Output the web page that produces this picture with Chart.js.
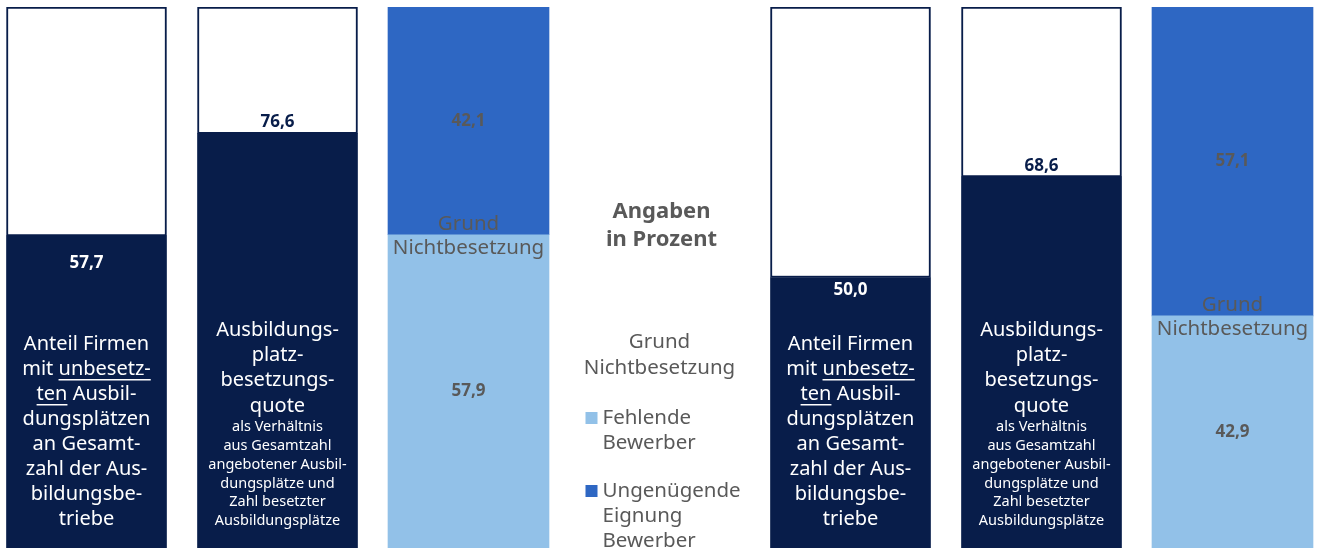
<!DOCTYPE html>
<html lang="de">
<head>
<meta charset="utf-8">
<script src="https://cdn.jsdelivr.net/npm/chart.js@4"></script>
<style>
  html, body { margin: 0; padding: 0; background: #fff; }
  #wrap { width: 1322px; height: 548px; }
</style>
</head>
<body>
<div id="wrap"><canvas id="ausbildung-chart"></canvas></div>
<script>
// two groups of three columns, slot 3 holds the legend text
const anteilSlots = [0, 4];
const quoteSlots = [1, 5];
const grundSlots = [2, 6];

const anteilUnbesetzt = [57.7, 50.0];
const besetzungsquote = [76.6, 68.6];
const fehlendeBewerber = [57.9, 42.9];
const ungenuegendeEignung = [42.1, 57.1];

const NAVY = '#081d4a';
const BLUE = '#2e67c3';
const LIGHT = '#92c1e8';
const GREY = '#595959';
const FONT = '"Noto Sans", sans-serif';

// text blocks inside the dark columns; [text, underline]
const anteilLines = [
    [['Anteil Firmen']],
    [['mit '], ['unbesetz-', true]],
    [['ten', true], [' Ausbil-']],
    [['dungsplätzen']],
    [['an Gesamt-']],
    [['zahl der Aus-']],
    [['bildungsbe-']],
    [['triebe']]
];
const quoteLines = ['Ausbildungs-', 'platz-', 'besetzungs-', 'quote'];
const quoteSmallLines = ['als Verhältnis', 'aus Gesamtzahl', 'angebotener Ausbil-', 'dungsplätze und', 'Zahl besetzter', 'Ausbildungsplätze'];

const fmt = v => v.toFixed(1).replace('.', ',');
const points = (slots, values) => slots.map((x, i) => ({ x: x, y: values[i] }));

const dataValues = anteilUnbesetzt.concat(besetzungsquote);
const dataSlots = anteilSlots.concat(quoteSlots);

const textPlugin = {
    id: 'columnTexts',
    afterDatasetsDraw(chart) {
        const ctx = chart.ctx;
        const bottom = chart.chartArea.bottom;
        ctx.save();
        ctx.textAlign = 'center';
        ctx.textBaseline = 'middle';

        function richLine(parts, cx, y, size) {
            ctx.font = size + 'px ' + FONT;
            const widths = parts.map(p => ctx.measureText(p[0]).width);
            let x = cx - widths.reduce((a, b) => a + b, 0) / 2;
            ctx.textAlign = 'left';
            parts.forEach((p, k) => {
                ctx.fillText(p[0], x, y);
                if (p[1]) {
                    ctx.fillRect(x, y + size * 0.5, widths[k], 1.5);
                }
                x += widths[k];
            });
            ctx.textAlign = 'center';
        }

        // dark columns
        const dark = chart.getDatasetMeta(0).data;
        const anteilOffsets = [27, 13];
        dark.forEach((bar, i) => {
            const raw = chart.data.datasets[0].data[i];
            const isAnteil = anteilSlots.includes(raw.x);
            ctx.font = 'bold 17px ' + FONT;
            if (isAnteil) {
                ctx.fillStyle = '#ffffff';
                ctx.fillText(fmt(raw.y), bar.x, bar.y + anteilOffsets[anteilSlots.indexOf(raw.x)]);
                anteilLines.forEach((parts, k) => {
                    richLine(parts, bar.x, bottom - 29 - (anteilLines.length - 1 - k) * 25, 20);
                });
            } else {
                ctx.fillStyle = NAVY;
                ctx.fillText(fmt(raw.y), bar.x, bar.y - 11);
                ctx.fillStyle = '#ffffff';
                const smallTop = bottom - 27 - (quoteSmallLines.length - 1) * 18.8;
                ctx.font = '14.5px ' + FONT;
                quoteSmallLines.forEach((t, k) => {
                    ctx.fillText(t, bar.x, smallTop + k * 18.8);
                });
                ctx.font = '20px ' + FONT;
                quoteLines.forEach((t, k) => {
                    ctx.fillText(t, bar.x, smallTop - 21 - (quoteLines.length - 1 - k) * 25.3);
                });
            }
        });

        // reason columns
        const lower = chart.getDatasetMeta(2).data;
        const upper = chart.getDatasetMeta(3).data;
        lower.forEach((bar, i) => {
            const top = upper[i];
            ctx.fillStyle = GREY;
            ctx.font = 'bold 17px ' + FONT;
            ctx.fillText(fmt(chart.data.datasets[2].data[i].y), bar.x, (bar.y + bar.base) / 2);
            ctx.fillText(fmt(chart.data.datasets[3].data[i].y), top.x, (top.y + top.base) / 2);
            ctx.font = '20.5px ' + FONT;
            ctx.fillText('Grund', bar.x, bar.y - 11);
            ctx.fillText('Nichtbesetzung', bar.x, bar.y + 13);
        });

        // legend column
        const lx = chart.scales.x.getPixelForValue(3);
        ctx.fillStyle = GREY;
        ctx.font = 'bold 22px ' + FONT;
        ctx.fillText('Angaben', lx + 2, 212);
        ctx.fillText('in Prozent', lx + 2, 240);
        ctx.font = '20.5px ' + FONT;
        ctx.fillText('Grund', lx, 342);
        ctx.fillText('Nichtbesetzung', lx, 368);

        const items = [
            { color: chart.data.datasets[2].backgroundColor, lines: ['Fehlende', 'Bewerber'], y: 418 },
            { color: chart.data.datasets[3].backgroundColor, lines: ['Ungenügende', 'Eignung', 'Bewerber'], y: 491 }
        ];
        ctx.textAlign = 'left';
        items.forEach(item => {
            ctx.fillStyle = item.color;
            ctx.fillRect(lx - 74, item.y - 6, 12, 12);
            ctx.fillStyle = GREY;
            item.lines.forEach((t, k) => ctx.fillText(t, lx - 57, item.y + k * 25));
        });
        ctx.restore();
    }
};

const ctx = document.getElementById('ausbildung-chart').getContext('2d');

new Chart(ctx, {
    type: 'bar',
    data: {
        datasets: [{
            label: 'Wert',
            data: points(dataSlots, dataValues),
            backgroundColor: NAVY,
            borderWidth: 0,
            barThickness: 160
        }, {
            label: 'Rest',
            data: points(dataSlots, dataValues.map(v => 100 - v)),
            backgroundColor: '#ffffff',
            borderColor: NAVY,
            borderWidth: 2,
            borderSkipped: false,
            barThickness: 160
        }, {
            label: 'Fehlende Bewerber',
            data: points(grundSlots, fehlendeBewerber),
            backgroundColor: LIGHT,
            borderWidth: 0,
            barThickness: 161
        }, {
            label: 'Ungenügende Eignung Bewerber',
            data: points(grundSlots, ungenuegendeEignung),
            backgroundColor: BLUE,
            borderWidth: 0,
            barThickness: 161
        }]
    },
    options: {
        responsive: true,
        maintainAspectRatio: false,
        animation: false,
        layout: { padding: { top: 7, bottom: 0, left: 0, right: 0 } },
        plugins: {
            legend: { display: false },
            tooltip: { enabled: false }
        },
        scales: {
            x: {
                type: 'linear',
                stacked: true,
                offset: false,
                min: -0.4529,
                max: 6.4686,
                display: false
            },
            y: {
                stacked: true,
                min: 0,
                max: 100,
                display: false
            }
        }
    },
    plugins: [textPlugin]
});
</script>
</body>
</html>
